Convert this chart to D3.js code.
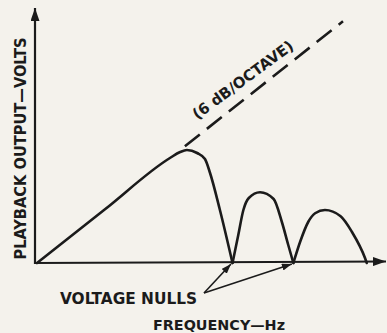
<!DOCTYPE html>
<html>
<head>
<meta charset="utf-8">
<script src="https://cdn.jsdelivr.net/npm/d3@7"></script>
<style>
  html, body { margin: 0; padding: 0; background: #f4f2ec; }
  svg { display: block; }
  text { font-family: "DejaVu Sans Condensed", "Liberation Sans Narrow", "Liberation Sans", sans-serif; font-weight: bold; fill: #1b1b1b; }
</style>
</head>
<body>
<script>
// Playback output vs. frequency: rising 6 dB/octave, then gap-loss humps with nulls.
// Arbitrary units: frequency 0-100, output 0-100.
const hump1 = [[0, 0], [20, 21.5], [39.1, 42], [42.1, 44.4], [44.1, 45.2], [47.1, 44], [49.4, 41.6], [50.9, 36], [53.8, 21.2], [57.5, 0]];
const hump2 = [[57.5, 0], [59.2, 11.2], [60.7, 21.2], [62.3, 26], [65.6, 28.3], [69.6, 25.6], [72, 16.5], [73.9, 7.2], [75.4, 0]];
const hump3 = [[75.4, 0], [77.4, 8.5], [79.8, 16.5], [81.8, 19.9], [84.7, 21.2], [89.3, 18.7], [92.6, 12.5], [96.5, 1.9], [97, 0]];
const asymptote = [[43.5, 46.7], [90, 96.7]];
const nulls = [57.5, 75.4];

const slopeLabel = "(6 dB/OCTAVE)";
const nullLabel = "VOLTAGE NULLS";
const xTitle = "FREQUENCY\u2014Hz";
const yTitle = "PLAYBACK OUTPUT\u2014VOLTS";

const W = 387, H = 333;
const ink = "#1b1b1b";

const x = d3.scaleLinear().domain([0, 100]).range([37, 377]);
const y = d3.scaleLinear().domain([0, 100]).range([263, 13]);

const svg = d3.select("body").append("svg")
  .attr("width", W).attr("height", H);

svg.append("rect").attr("width", W).attr("height", H).attr("fill", "#f4f2ec");

const defs = svg.append("defs");
function marker(id, len, half) {
  defs.append("marker")
    .attr("id", id)
    .attr("viewBox", `0 ${-half} ${len} ${half * 2}`)
    .attr("refX", len).attr("refY", 0)
    .attr("markerUnits", "userSpaceOnUse")
    .attr("markerWidth", len).attr("markerHeight", half * 2)
    .attr("orient", "auto")
    .append("path")
    .attr("d", `M0,${-half}L${len},0L0,${half}Z`)
    .attr("fill", ink);
}
marker("axisHead", 13, 4.5);
marker("noteHead", 10, 3.5);

// Axes
svg.append("line")
  .attr("x1", x(0) - 2).attr("y1", y(0) + 1)
  .attr("x2", x(0) - 2).attr("y2", 8)
  .attr("stroke", ink).attr("stroke-width", 2.2)
  .attr("marker-end", "url(#axisHead)");
svg.append("line")
  .attr("x1", x(0) - 3).attr("y1", y(0))
  .attr("x2", 386).attr("y2", y(0) - 1.5)
  .attr("stroke", ink).attr("stroke-width", 2.2)
  .attr("marker-end", "url(#axisHead)");

// Response curve
const line = d3.line()
  .x(d => x(d[0])).y(d => y(d[1]))
  .curve(d3.curveMonotoneX);

[hump1, hump2, hump3].forEach(h => {
  svg.append("path")
    .attr("d", line(h))
    .attr("fill", "none")
    .attr("stroke", ink)
    .attr("stroke-width", 2.6)
    .attr("stroke-linejoin", "round")
    .attr("stroke-linecap", "round");
});

// 6 dB/octave asymptote
svg.append("path")
  .attr("d", d3.line().x(d => x(d[0])).y(d => y(d[1]))(asymptote))
  .attr("fill", "none")
  .attr("stroke", ink)
  .attr("stroke-width", 2.6)
  .attr("stroke-dasharray", "19 9");

const ax0 = x(asymptote[0][0]), ay0 = y(asymptote[0][1]);
const ax1 = x(asymptote[1][0]), ay1 = y(asymptote[1][1]);
const angle = Math.atan2(ay1 - ay0, ax1 - ax0) * 180 / Math.PI;
const slopeAt = 49.4;
const slopeFrac = (slopeAt - asymptote[0][0]) / (asymptote[1][0] - asymptote[0][0]);
const sx = x(slopeAt);
const sy = y(asymptote[0][1] + slopeFrac * (asymptote[1][1] - asymptote[0][1]));
svg.append("text")
  .attr("transform", `translate(${sx},${sy}) rotate(${angle + 2})`)
  .attr("dy", -13)
  .attr("font-size", 15)
  .attr("textLength", 121)
  .attr("lengthAdjust", "spacingAndGlyphs")
  .text(slopeLabel);

// Null annotation
const noteX = 204, noteY = 293;
nulls.forEach(f => {
  svg.append("line")
    .attr("x1", noteX).attr("y1", noteY)
    .attr("x2", x(f) - 1.5).attr("y2", y(0) + 1)
    .attr("stroke", ink).attr("stroke-width", 1.6)
    .attr("marker-end", "url(#noteHead)");
});

svg.append("text")
  .attr("x", 60).attr("y", 303.5)
  .attr("font-size", 16)
  .attr("textLength", 137)
  .attr("lengthAdjust", "spacingAndGlyphs")
  .text(nullLabel);

svg.append("text")
  .attr("x", 153).attr("y", 329.5)
  .attr("font-size", 14.5)
  .attr("textLength", 132)
  .attr("lengthAdjust", "spacingAndGlyphs")
  .text(xTitle);

svg.append("text")
  .attr("transform", `translate(25.5,${(37 + 260) / 2}) rotate(-90)`)
  .attr("text-anchor", "middle")
  .attr("font-size", 15)
  .attr("textLength", 222)
  .attr("lengthAdjust", "spacingAndGlyphs")
  .text(yTitle);
</script>
</body>
</html>
